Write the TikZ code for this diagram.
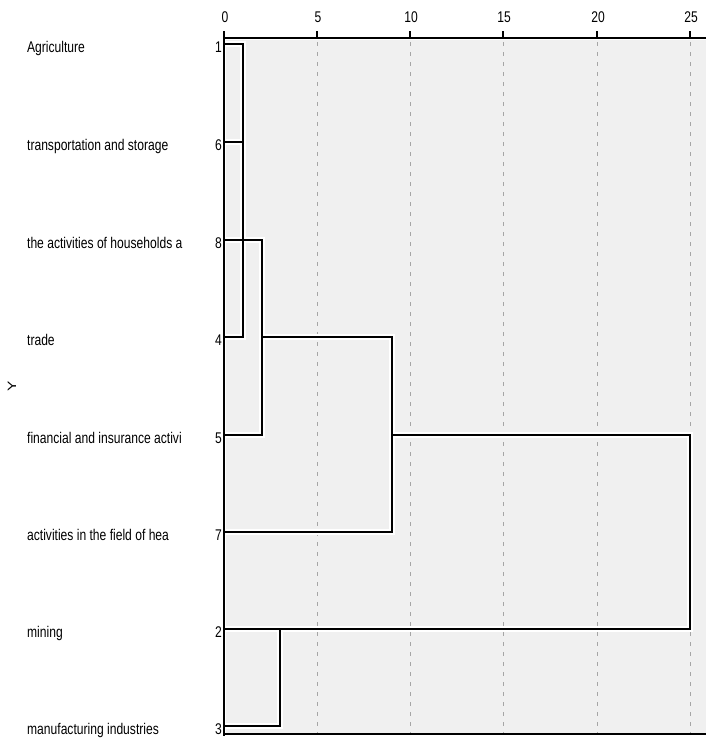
\documentclass[tikz,border=0pt]{standalone}
\usepackage{fontspec}
\setmainfont{Liberation Sans}
\begin{document}
\begin{tikzpicture}[x=1pt,y=-1pt,
  txt/.style={inner sep=0pt,xscale=0.78,font=\fontsize{15.5}{17}\selectfont},
  lbl/.style={txt,anchor=base west},
  num/.style={txt,anchor=base east},
  tick/.style={txt,anchor=base},
  grid/.style={draw=gray!70,line width=0.8pt,dash pattern=on 4pt off 6pt},
  halo/.style={draw=white,line width=6pt},
  dend/.style={draw=black,line width=2.3pt},
  axis/.style={draw=black,line width=1.8pt}]
\useasboundingbox (0,0) rectangle (706,739);
\fill[white] (0,0) rectangle (706,739);
% plot area
\fill[gray!12] (226,40) rectangle (706,733);
% grid
\foreach \gx in {317,410,503,597,690} \draw[grid] (\gx,42) -- (\gx,733);
% leaves
\foreach \n/\y in {1/44,6/142,8/240,4/337,5/435,7/532,2/629,3/726}
  \coordinate (L\n) at (224,\y);
% merge coordinates
\coordinate (a1) at (243,44);  \coordinate (a6) at (243,142); \coordinate (a4) at (243,337);
\coordinate (b8) at (262,240); \coordinate (b5) at (262,435); \coordinate (bm) at (262,337);
\coordinate (c4) at (392,337); \coordinate (c7) at (392,532); \coordinate (cm) at (392,435);
\coordinate (d5) at (690,435); \coordinate (d2) at (690,629);
\coordinate (e2) at (280,629); \coordinate (e3) at (280,726);
\foreach \s in {halo,dend}{
  \draw[\s] (L1) -- (a1) -- (a4) -- (L4);
  \draw[\s] (L6) -- (a6);
  \draw[\s] (L8) -- (b8) -- (b5) -- (L5);
  \draw[\s] (bm) -- (c4) -- (c7) -- (L7);
  \draw[\s] (cm) -- (d5) -- (d2) -- (L2);
  \draw[\s] (e2) -- (e3) -- (L3);
}
% axes
\draw[axis] (224,38) -- (706,38);
\draw[axis] (224,32) -- (224,736);
\draw[axis] (224,734) -- (706,734);
\foreach \tx/\tl in {224/0,317/5,410/10,503/15,597/20,690/25}{
  \draw[axis,line width=1.5pt] (\tx,31) -- (\tx,38);
  \node[tick] (t\tl) at (\tx+1,22) {\tl};
}
% labels
\foreach \n/\y/\t in {1/44/Agriculture,6/142/transportation and storage,8/240/the activities of households a,4/337/trade,5/435/financial and insurance activi,7/532/activities in the field of hea,2/629/mining,3/726/manufacturing industries}{
  \node[lbl] (n\n) at (27,\y+8) {\t};
  \node[num] (k\n) at (222,\y+8) {\n};
}
\node[txt,rotate=90] (ylab) at (12,386) {Y};
\end{tikzpicture}
\end{document}
